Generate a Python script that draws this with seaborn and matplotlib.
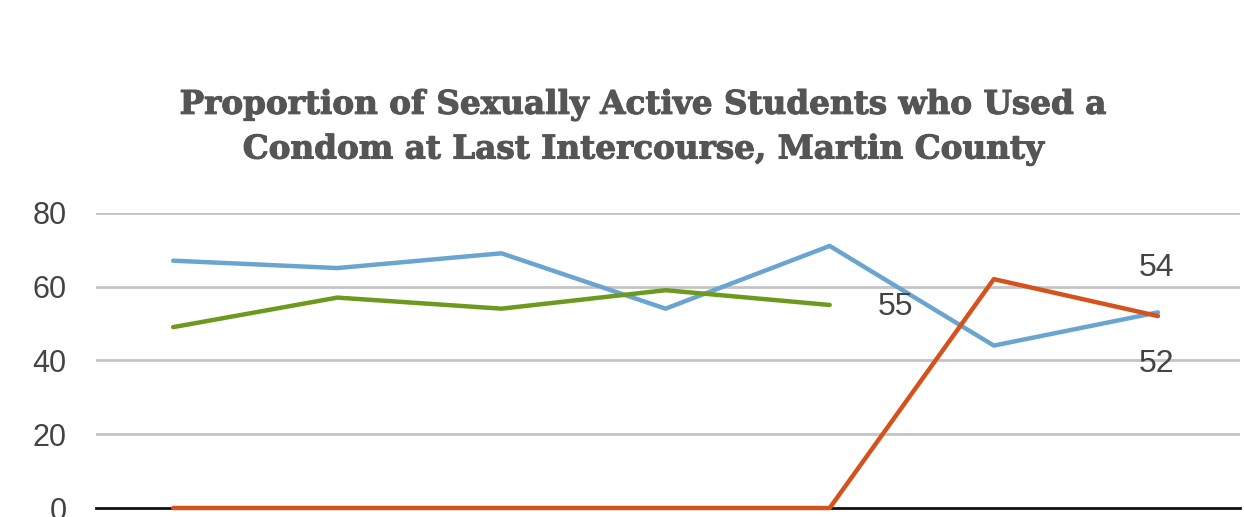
import numpy as np
import pandas as pd
import matplotlib
matplotlib.use('Agg')
import matplotlib.pyplot as plt
import matplotlib.patheffects as pe
import seaborn as sns

# Survey years (x labels are cropped off in the reference, so they stay hidden)
years = ['2001', '2003', '2005', '2007', '2009', '2011', '2013']
blue_vals = [67, 65, 69, 54, 71, 44, 53]
green_vals = [49, 57, 54, 59, 55, np.nan, np.nan]
orange_vals = [0, 0, 0, 0, 0, 62, 52]

y_ticks = [0, 20, 40, 60, 80]

df = pd.DataFrame({
    'x': list(range(len(years))) * 3,
    'value': blue_vals + green_vals + orange_vals,
    'series': ['blue'] * 7 + ['green'] * 7 + ['orange'] * 7,
})

palette = {'blue': '#6aa4d0', 'green': '#6b9a1e', 'orange': '#d4521b'}

sns.set_style('white')
plt.rcParams['font.family'] = ['Liberation Sans', 'DejaVu Sans']
fig = plt.figure(figsize=(12.44, 5.17), dpi=100)
ax = fig.add_axes([0.0772, 0.0174, 0.9196, 0.5712])

# grid lines
for t in y_ticks[1:]:
    ax.axhline(t, color='#c4c4c4', lw=2, zorder=0)

sns.lineplot(data=df, x='x', y='value', hue='series', palette=palette,
             lw=3.2, legend=False, ax=ax, clip_on=False, zorder=3)

ax.set_xlim(-0.47, 6.5)
ax.set_ylim(0, 80)
ax.set_yticks(y_ticks)
ax.set_xticks([])
ax.set_xlabel('')
ax.set_ylabel('')
ax.tick_params(axis='y', length=0, pad=21, labelsize=22, labelcolor='#444444')
for s in ['top', 'right', 'left']:
    ax.spines[s].set_visible(False)
ax.spines['bottom'].set_color('#111111')
ax.spines['bottom'].set_linewidth(2)
ax.spines['bottom'].set_zorder(2)

# end labels
lab_kw = dict(fontsize=23, color='#444444', ha='center', va='center')
ax.text(4.4, green_vals[4] - 0.5, '55', **lab_kw)
ax.text(5.99, blue_vals[6] + 12, '54', **lab_kw)
ax.text(5.99, orange_vals[6] - 13, '52', **lab_kw)

fig.text(0.517, 0.755,
         'Proportion of Sexually Active Students who Used a\nCondom at Last Intercourse, Martin County',
         ha='center', va='center', fontsize=23.5, fontweight='bold',
         family='DejaVu Serif', color='#555555', linespacing=1.45,
         path_effects=[pe.withStroke(linewidth=0.8, foreground='#555555')])

fig.savefig('out.png', dpi=100)
